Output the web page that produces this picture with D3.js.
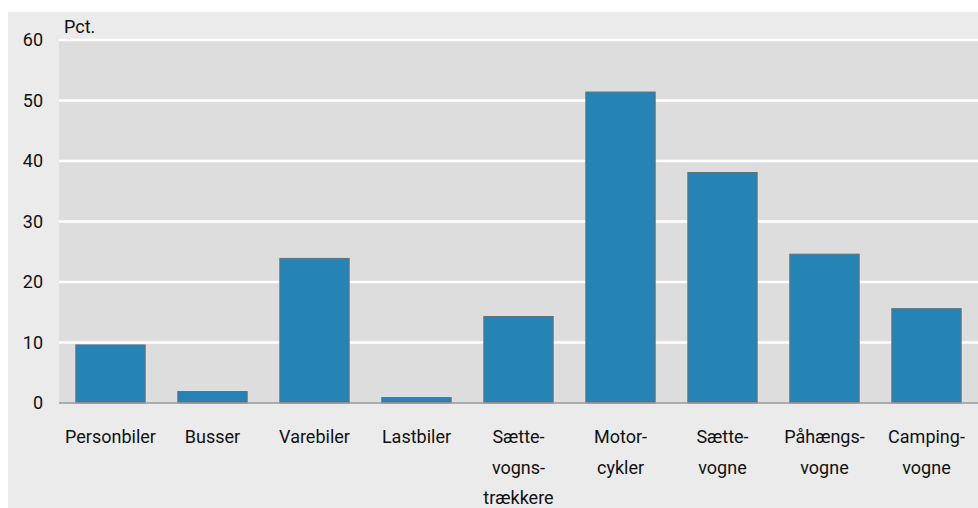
<!DOCTYPE html>
<html>
<head>
<meta charset="utf-8">
<script src="https://cdn.jsdelivr.net/npm/d3@7"></script>
<style>
  body { margin: 0; background: #fff; }
  svg text { font-family: Roboto, "Noto Sans", sans-serif; fill: #111; }
</style>
</head>
<body>
<div id="chart"></div>
<script>
// data
var categories = ["Personbiler", "Busser", "Varebiler", "Lastbiler", "Sætte-vogns-trækkere",
    "Motor-cykler", "Sætte-vogne", "Påhængs-vogne", "Camping-vogne"];
var labelLines = [["Personbiler"], ["Busser"], ["Varebiler"], ["Lastbiler"], ["Sætte-", "vogns-", "trækkere"],
    ["Motor-", "cykler"], ["Sætte-", "vogne"], ["Påhængs-", "vogne"], ["Camping-", "vogne"]];
var values = [9.6, 1.9, 23.9, 0.9, 14.3, 51.4, 38.1, 24.6, 15.6];
var yTicks = [0, 10, 20, 30, 40, 50, 60];
var unitLabel = "Pct.";

var W = 978, H = 508;

var svg = d3.select("#chart")
    .append("svg")
    .attr("width", W)
    .attr("height", H);

// outer panel
svg.append("rect")
    .attr("x", 8).attr("y", 12)
    .attr("width", W - 8).attr("height", H - 12)
    .attr("fill", "#ebebeb");

var x = d3.scaleBand()
    .domain(categories)
    .range([59.5, 977.5])
    .paddingInner(0.32)
    .paddingOuter(0.16);

var y = d3.scaleLinear()
    .domain([0, 60])
    .range([403, 40]);

// plot area
svg.append("rect")
    .attr("x", 59).attr("y", y(60))
    .attr("width", W - 59).attr("height", y(0) - y(60))
    .attr("fill", "#dddddd");

// grid lines
svg.append("g")
    .selectAll("line")
    .data(yTicks.filter(function (d) { return d > 0; }))
    .enter()
    .append("line")
    .attr("x1", 59).attr("x2", W)
    .attr("y1", function (d) { return y(d); })
    .attr("y2", function (d) { return y(d); })
    .attr("stroke", "#ffffff")
    .attr("stroke-width", 2.5);

// y axis
var yAxis = svg.append("g")
    .attr("transform", "translate(43,0)")
    .call(d3.axisLeft(y).tickValues(yTicks).tickSize(0).tickPadding(0));
yAxis.select(".domain").remove();
yAxis.selectAll("text")
    .attr("font-size", 18)
    .style("font-family", "Roboto, 'Noto Sans', sans-serif")
    .attr("fill", "#111");

svg.append("text")
    .attr("x", 64).attr("y", 33)
    .attr("font-size", 18)
    .text(unitLabel);

// bars
svg.append("g")
    .selectAll("rect")
    .data(values)
    .enter()
    .append("rect")
    .attr("x", function (d, i) { return x(categories[i]); })
    .attr("y", function (d) { return y(d); })
    .attr("width", x.bandwidth())
    .attr("height", function (d) { return y(0) - y(d); })
    .attr("fill", "#2683b6")
    .attr("stroke", "#6f6f6f")
    .attr("stroke-width", 1);

// baseline
svg.append("line")
    .attr("x1", 59).attr("x2", W)
    .attr("y1", y(0)).attr("y2", y(0))
    .attr("stroke", "#9a9a9a")
    .attr("stroke-width", 1.5);

// x labels
var xl = svg.append("g")
    .selectAll("text")
    .data(categories)
    .enter()
    .append("text")
    .attr("text-anchor", "middle")
    .attr("font-size", 18);

xl.each(function (d, i) {
    var t = d3.select(this);
    labelLines[i].forEach(function (line, j) {
        t.append("tspan")
            .attr("x", x(d) + x.bandwidth() / 2)
            .attr("y", 443 + j * 30.5)
            .text(line);
    });
});
</script>
</body>
</html>
